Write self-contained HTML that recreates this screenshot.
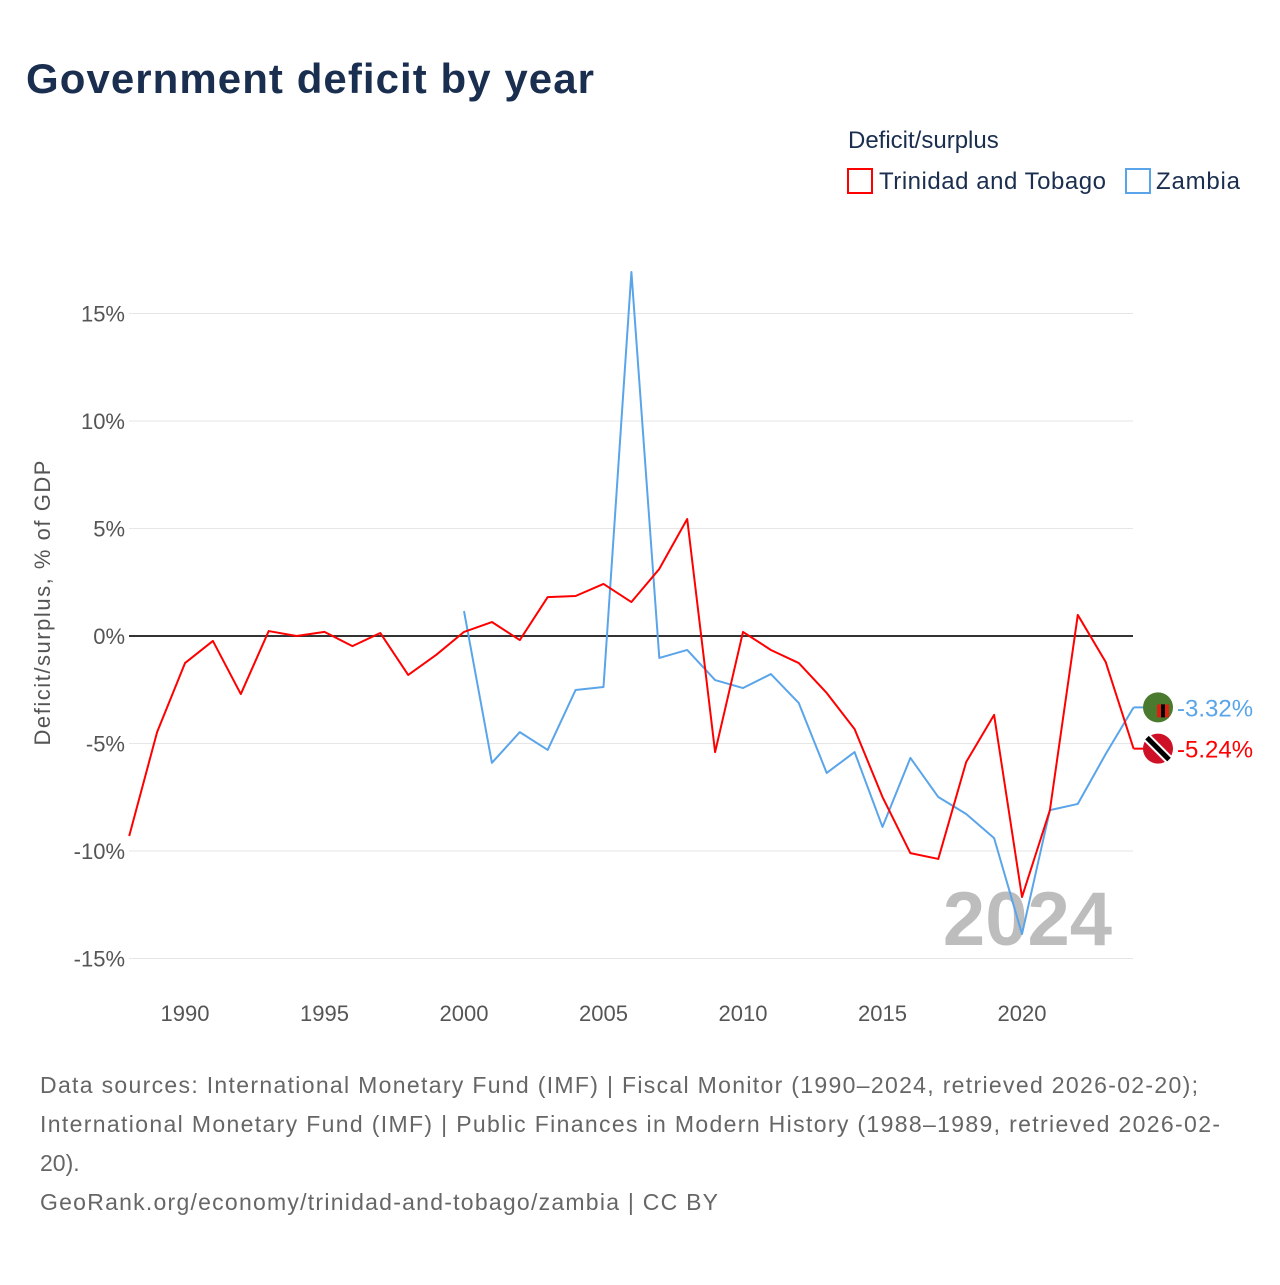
<!DOCTYPE html>
<html><head><meta charset="utf-8"><style>
body{margin:0;background:#fff;font-family:"Liberation Sans",sans-serif;}
svg text{font-family:"Liberation Sans",sans-serif;}
</style></head><body>
<svg id="c" width="1280" height="1280" viewBox="0 0 1280 1280">
<text x="26" y="93" font-size="42" font-weight="bold" fill="#1a2e4f" textLength="568">Government deficit by year</text>
<text x="848" y="148" font-size="24" fill="#1a2e4f">Deficit/surplus</text>
<g><rect x="848" y="169" width="24" height="24" fill="none" stroke="#f00" stroke-width="2"/><text x="879" y="189" font-size="24" fill="#1a2e4f" textLength="227">Trinidad and Tobago</text></g>
<g><rect x="1126" y="169" width="24" height="24" fill="none" stroke="#5aa5ea" stroke-width="2"/><text x="1156" y="189" font-size="24" fill="#1a2e4f" textLength="84">Zambia</text></g>
<g id="grid"></g><g id="xt"></g>
<text transform="translate(50,603) rotate(-90)" text-anchor="middle" font-size="22" fill="#555" textLength="285">Deficit/surplus, % of GDP</text>
<text x="1112" y="945" text-anchor="end" font-size="76" font-weight="bold" fill="#bdbdbd">2024</text>
<g id="lines"></g>
<g font-size="23" fill="#666">
<text x="40" y="1093" textLength="1158">Data sources: International Monetary Fund (IMF) | Fiscal Monitor (1990–2024, retrieved 2026-02-20);</text>
<text x="40" y="1132" textLength="1180">International Monetary Fund (IMF) | Public Finances in Modern History (1988–1989, retrieved 2026-02-</text>
<text x="40" y="1171">20).</text>
<text x="40" y="1210" textLength="678">GeoRank.org/economy/trinidad-and-tobago/zambia | CC BY</text>
</g>
</svg>
<script>
const yTicks=[15,10,5,0,-5,-10,-15];
const xTicks=[1990,1995,2000,2005,2010,2015,2020];
const ttYears=[1988,1989,1990,1991,1992,1993,1994,1995,1996,1997,1998,1999,2000,2001,2002,2003,2004,2005,2006,2007,2008,2009,2010,2011,2012,2013,2014,2015,2016,2017,2018,2019,2020,2021,2022,2023,2024];
const ttValues=[-9.3,-4.47,-1.26,-0.23,-2.7,0.23,0,0.19,-0.47,0.14,-1.81,-0.88,0.19,0.65,-0.19,1.81,1.86,2.42,1.58,3.12,5.44,-5.4,0.19,-0.65,-1.26,-2.65,-4.33,-7.49,-10.1,-10.37,-5.86,-3.67,-12.14,-8.1,0.98,-1.21,-5.24];
const zmYears=[2000,2001,2002,2003,2004,2005,2006,2007,2008,2009,2010,2011,2012,2013,2014,2015,2016,2017,2018,2019,2020,2021,2022,2023,2024];
const zmValues=[1.16,-5.9,-4.47,-5.3,-2.51,-2.37,16.93,-1.02,-0.65,-2.05,-2.42,-1.77,-3.12,-6.37,-5.4,-8.88,-5.67,-7.49,-8.28,-9.4,-13.86,-8.1,-7.81,-5.49,-3.32];
const NS="http://www.w3.org/2000/svg";
const X=y=>129.2+(y-1988)*27.9;
const Y=v=>636-v*21.5;
function mk(t,a,p){const e=document.createElementNS(NS,t);for(const k in a)e.setAttribute(k,a[k]);p.appendChild(e);return e;}
const g=document.getElementById('grid');
yTicks.forEach(v=>{
 const l=mk('line',{x1:129,x2:1133,y1:Y(v),y2:Y(v),stroke:v===0?'#333':'#e6e6e6','stroke-width':v===0?2:1},g);
 
 
 const t=mk('text',{x:125,y:Y(v)+8,'text-anchor':'end','font-size':22,fill:'#555'},g);
 t.textContent=v+'%';
 
 
});
const xt=document.getElementById('xt');
xTicks.forEach(v=>{
 const t=mk('text',{x:X(v),y:1021,'text-anchor':'middle','font-size':22,fill:'#555'},xt);
 t.textContent=v;
 
 
});
const L=document.getElementById('lines');
function series(ys,vs,col,name){
 const p=mk('polyline',{points:ys.map((y,i)=>X(y)+','+Y(vs[i])).join(' '),fill:'none',stroke:col,'stroke-width':2,'stroke-linejoin':'round'},L);
 
 
}
series(zmYears,zmValues,'#5aa5ea','zambia-line');
series(ttYears,ttValues,'#f00','trinidad-line');
function endLabel(v,col,name,flag){
 const y=Y(v),x0=X(2024);
 mk('line',{x1:x0,x2:1146,y1:y,y2:y,stroke:col,'stroke-width':2},L);
 const c=mk('circle',{cx:1158,cy:y,r:15,fill:flag},L);
 
 
 const t=mk('text',{x:1177,y:y+9,'font-size':24,fill:col},L);
 t.textContent=v.toFixed(2)+'%';
 
 
 return y;
}
const yz=endLabel(zmValues[zmValues.length-1],'#5aa5ea','zambia','#4a7a2e');
mk('rect',{x:1157,y:yz-3,width:12,height:13,fill:'#de2010'},L);
mk('rect',{x:1161,y:yz-3,width:4,height:13,fill:'#000'},L);
const yt=endLabel(ttValues[ttValues.length-1],'#f00','trinidad','#ce1126');
mk('line',{x1:1147,y1:yt-11,x2:1169,y2:yt+11,stroke:'#fff','stroke-width':9},L);
mk('line',{x1:1147,y1:yt-11,x2:1169,y2:yt+11,stroke:'#000','stroke-width':5},L);
</script>
</body></html>
